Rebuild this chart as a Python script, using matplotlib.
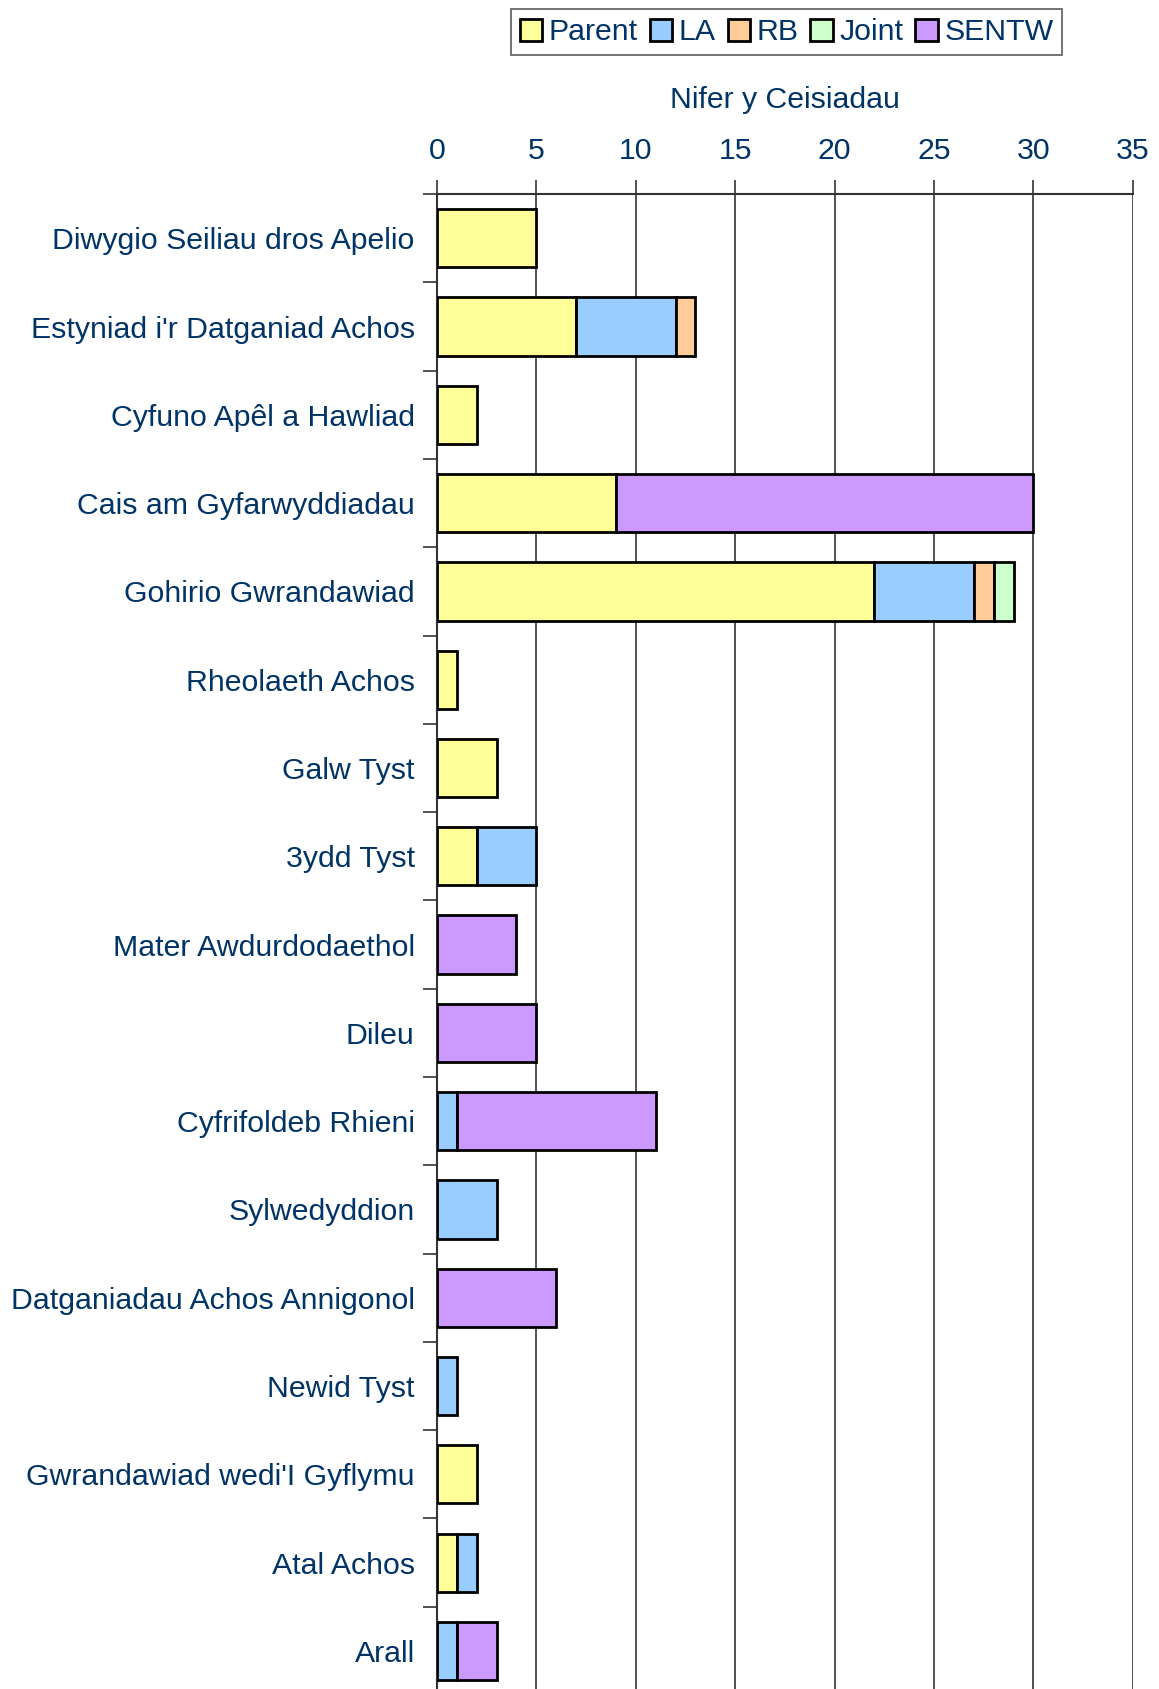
import numpy as np
import matplotlib.pyplot as plt

plt.rcParams['font.family'] = ['Liberation Sans', 'DejaVu Sans']

# --- DATA ---
categories = [
    'Diwygio Seiliau dros Apelio',
    "Estyniad i'r Datganiad Achos",
    'Cyfuno Apêl a Hawliad',
    'Cais am Gyfarwyddiadau',
    'Gohirio Gwrandawiad',
    'Rheolaeth Achos',
    'Galw Tyst',
    '3ydd Tyst',
    'Mater Awdurdodaethol',
    'Dileu',
    'Cyfrifoldeb Rhieni',
    'Sylwedyddion',
    'Datganiadau Achos Annigonol',
    'Newid Tyst',
    "Gwrandawiad wedi'I Gyflymu",
    'Atal Achos',
    'Arall',
]
parent = [5, 7, 2, 9, 22, 1, 3, 2, 0, 0, 0, 0, 0, 0, 2, 1, 0]
la     = [0, 5, 0, 0, 5, 0, 0, 3, 0, 0, 1, 3, 0, 1, 0, 1, 1]
rb     = [0, 1, 0, 0, 1, 0, 0, 0, 0, 0, 0, 0, 0, 0, 0, 0, 0]
joint  = [0, 0, 0, 0, 1, 0, 0, 0, 0, 0, 0, 0, 0, 0, 0, 0, 0]
sentw  = [0, 0, 0, 21, 0, 0, 0, 0, 4, 5, 10, 0, 6, 0, 0, 0, 2]

series_names = ['Parent', 'LA', 'RB', 'Joint', 'SENTW']
series_colors = ['#FFFF99', '#99CCFF', '#FFCC99', '#CCFFCC', '#CC99FF']
x_ticks = [0, 5, 10, 15, 20, 25, 30, 35]

TEXT = '#003366'
FS = 21.8

fig = plt.figure(figsize=(11.59, 16.89), dpi=100)
ax = fig.add_axes([0.377, -0.0036, 0.6005, 0.8887])

y = np.arange(len(categories))
left = np.zeros(len(categories))
handles = []
for name, vals, col in zip(series_names, [parent, la, rb, joint, sentw], series_colors):
    vals = np.array(vals, dtype=float)
    mask = vals > 0
    h = ax.barh(y[mask], vals[mask], left=left[mask], height=0.66, color=col,
                edgecolor='black', linewidth=2, label=name, zorder=3)
    handles.append(h)
    left += vals

ax.set_ylim(len(categories) - 0.5, -0.5)
ax.set_xlim(0, 35)

ax.xaxis.tick_top()
ax.xaxis.set_label_position('top')
ax.set_xticks(x_ticks)
ax.set_xticklabels([str(t) for t in x_ticks])
ax.tick_params(axis='x', direction='out', length=10, width=1.2, colors='#333333',
               labelcolor=TEXT, labelsize=FS, pad=11)
ax.set_xlabel('Nifer y Ceisiadau', color=TEXT, fontsize=FS, labelpad=21)

ax.set_yticks(y)
ax.set_yticklabels(categories)
ax.set_yticks(np.arange(len(categories) + 1) - 0.5, minor=True)
ax.tick_params(axis='y', which='major', length=0, labelcolor=TEXT, labelsize=FS, pad=16)
ax.tick_params(axis='y', which='minor', length=10, width=1.2, colors='#333333')

ax.grid(True, axis='x', color='#333333', linewidth=1.2, zorder=0)
for side in ['right', 'bottom']:
    ax.spines[side].set_visible(False)
for side in ['top', 'left']:
    ax.spines[side].set_color('#333333')
    ax.spines[side].set_linewidth(1.5)

leg = fig.legend(handles=handles, labels=series_names, loc='upper center',
                 bbox_to_anchor=(0.6786, 0.9945), ncol=5, fontsize=FS,
                 frameon=True, fancybox=False, edgecolor='#333333',
                 handlelength=0.75, handleheight=0.75, handletextpad=0.2,
                 columnspacing=0.4, borderpad=0.3, borderaxespad=0)
for t in leg.get_texts():
    t.set_color(TEXT)
leg.get_frame().set_linewidth(1.2)

fig.savefig('out.png', dpi=100, facecolor='white')
